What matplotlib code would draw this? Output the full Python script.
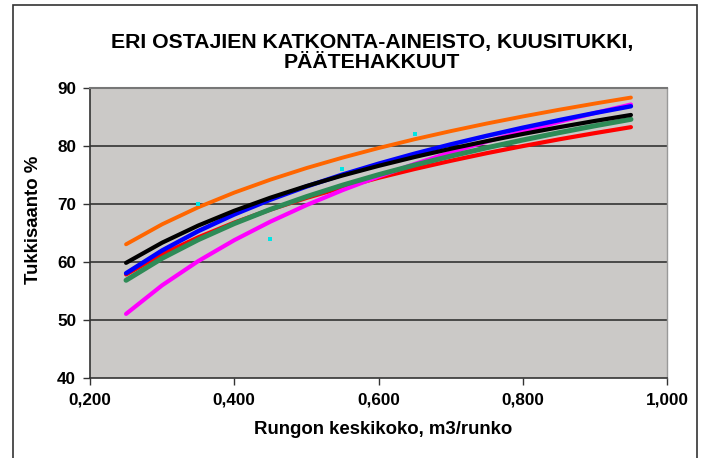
import matplotlib
matplotlib.use("Agg")
import matplotlib.pyplot as plt
from matplotlib.patches import Rectangle

plt.rcParams['font.family'] = ['Liberation Sans', 'DejaVu Sans']

x_vals = [0.25, 0.30, 0.35, 0.40, 0.45, 0.50, 0.55, 0.60, 0.65, 0.70, 0.75, 0.80, 0.85, 0.90, 0.95]

red = [57.80, 61.27, 64.20, 66.74, 68.98, 70.99, 72.80, 74.46, 75.98, 77.39, 78.71, 79.93, 81.09, 82.17, 83.20]
magenta = [51.00, 55.93, 60.10, 63.71, 66.90, 69.75, 72.33, 74.68, 76.84, 78.84, 80.71, 82.46, 84.10, 85.64, 87.10]
green = [56.80, 60.59, 63.79, 66.57, 69.02, 71.21, 73.19, 75.00, 76.66, 78.20, 79.64, 80.98, 82.24, 83.43, 84.55]
blue = [58.01, 61.94, 65.27, 68.15, 70.69, 72.96, 75.02, 76.89, 78.62, 80.22, 81.70, 83.10, 84.40, 85.64, 86.80]
black = [59.80, 63.28, 66.23, 68.78, 71.03, 73.04, 74.86, 76.52, 78.05, 79.47, 80.78, 82.02, 83.18, 84.27, 85.30]
orange = [63.00, 66.45, 69.38, 71.91, 74.14, 76.14, 77.94, 79.59, 81.11, 82.51, 83.82, 85.04, 86.19, 87.27, 88.30]

cyan_x = [0.35, 0.45, 0.55, 0.65]
cyan_y = [70.0, 64.0, 76.0, 82.0]

xticks = [0.2, 0.4, 0.6, 0.8, 1.0]
xtick_labels = ["0,200", "0,400", "0,600", "0,800", "1,000"]
yticks = [40, 50, 60, 70, 80, 90]

W, H = 703, 458
fig = plt.figure(figsize=(W / 100, H / 100), dpi=100)
fig.patch.set_facecolor('white')

# outer chart border
fig.patches.append(Rectangle((13 / W, -0.01), (697 - 13) / W, (H - 5) / H + 0.01,
                             transform=fig.transFigure, fill=False,
                             edgecolor='#333333', linewidth=1.2))

left, right, top, bottom = 90, 667, 87.7, 377.7
ax = fig.add_axes([left / W, 1 - bottom / H, (right - left) / W, (bottom - top) / H])
ax.set_facecolor('#CBC9C7')
ax.set_xlim(0.2, 1.0)
ax.set_ylim(40, 90)

for yv in yticks[1:-1]:
    ax.axhline(yv, color='#333333', linewidth=1.2, zorder=1)

series = [
    (red, '#FF0000', 3.0),
    (magenta, '#FF00FF', 3.0),
    (green, '#2E8B57', 3.6),
    (blue, '#0000FF', 3.2),
    (black, '#000000', 3.0),
    (orange, '#FF6600', 2.8),
]
for vals, col, lw in series:
    ax.plot(x_vals, vals, color=col, linewidth=lw, solid_capstyle='round',
            solid_joinstyle='round', zorder=3)

ax.scatter(cyan_x, cyan_y, marker='s', s=5, color='#00E5E5', zorder=5, linewidths=0)

ax.set_xticks(xticks)
ax.set_xticklabels(xtick_labels)
ax.set_yticks(yticks)
ax.tick_params(axis='both', direction='out', length=5, width=1, color='#333333',
               labelsize=12.3)
for lab in ax.get_xticklabels() + ax.get_yticklabels():
    lab.set_fontweight('bold')
ax.tick_params(axis='x', pad=6)
ax.tick_params(axis='y', pad=5)

for s in ['left', 'bottom']:
    ax.spines[s].set_color('#333333')
    ax.spines[s].set_linewidth(1.2)
ax.spines['top'].set_color('#777777')
ax.spines['top'].set_linewidth(1.5)
ax.spines['right'].set_color('#999999')
ax.spines['right'].set_linewidth(1.0)

ax.set_xlabel('Rungon keskikoko, m3/runko', fontsize=13.4, fontweight='bold')
ax.set_ylabel('Tukkisaanto %', fontsize=13.4, fontweight='bold')
ax.xaxis.set_label_coords((383 - left) / (right - left), (bottom - 430) / (bottom - top))
ax.xaxis.label.set_va('center')
ax.yaxis.set_label_coords((33 - left) / (right - left), (bottom - 220) / (bottom - top))
ax.yaxis.label.set_va('center')

fig.text(372 / W, 1 - 52.5 / H, 'ERI OSTAJIEN KATKONTA-AINEISTO, KUUSITUKKI,\nPÄÄTEHAKKUUT',
         ha='center', va='center', fontsize=15.3, fontweight='bold', linespacing=1.05)

fig.savefig('out.png', dpi=100)
